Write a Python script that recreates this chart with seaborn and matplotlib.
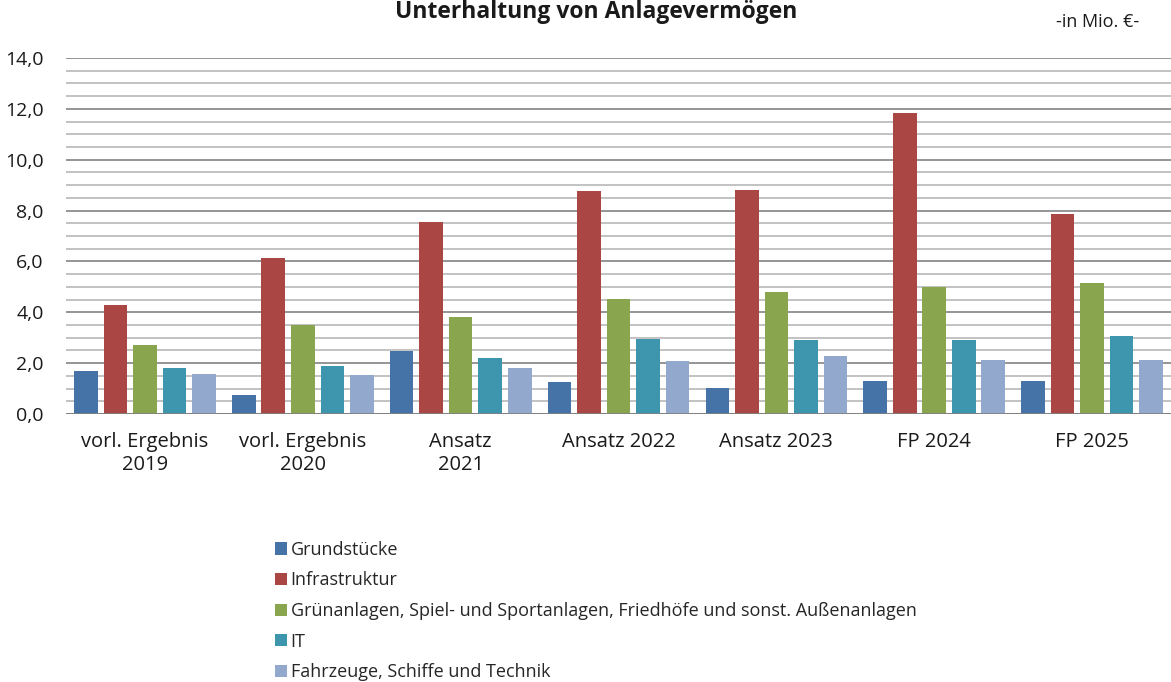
import matplotlib
matplotlib.use("Agg")
import matplotlib.pyplot as plt
from matplotlib.ticker import MultipleLocator, FuncFormatter
import seaborn as sns
import pandas as pd

categories = ["vorl. Ergebnis\n2019", "vorl. Ergebnis\n2020", "Ansatz\n2021",
              "Ansatz 2022", "Ansatz 2023", "FP 2024", "FP 2025"]
series_names = ["Grundstücke", "Infrastruktur",
                "Grünanlagen, Spiel- und Sportanlagen, Friedhöfe und sonst. Außenanlagen",
                "IT", "Fahrzeuge, Schiffe und Technik"]
grundstuecke = [1.70, 0.73, 2.49, 1.27, 1.03, 1.28, 1.30]
infrastruktur = [4.29, 6.14, 7.55, 8.77, 8.81, 11.82, 7.88]
gruenanlagen = [2.72, 3.51, 3.82, 4.53, 4.80, 5.01, 5.14]
it = [1.79, 1.90, 2.21, 2.96, 2.92, 2.92, 3.06]
fahrzeuge = [1.57, 1.54, 1.82, 2.09, 2.29, 2.12, 2.12]
colors = ["#4572A7", "#AA4643", "#89A54E", "#3D96AE", "#92A8CD"]

values = [grundstuecke, infrastruktur, gruenanlagen, it, fahrzeuge]
rows = []
for name, vals in zip(series_names, values):
    for cat, v in zip(categories, vals):
        rows.append({"Kategorie": cat, "Serie": name, "Wert": v})
df = pd.DataFrame(rows)

sns.set_theme(style="white")
plt.rcParams["font.family"] = ["Open Sans", "DejaVu Sans"]

fig = plt.figure(figsize=(11.71, 6.82), dpi=100)
ax = fig.add_axes([0.0564, 0.393, 0.9436, 0.522])

sns.barplot(data=df, x="Kategorie", y="Wert", hue="Serie", order=categories,
            hue_order=series_names, palette=colors, width=0.935, gap=0.2,
            linewidth=0, saturation=1, ax=ax, zorder=3)

ax.set_ylim(0, 14)
ax.set_xlim(-0.5, len(categories) - 0.5)
ax.yaxis.set_major_locator(MultipleLocator(2))
ax.yaxis.set_minor_locator(MultipleLocator(0.5))
ax.yaxis.set_major_formatter(FuncFormatter(lambda v, p: f"{v:.1f}".replace(".", ",")))
ax.grid(which="major", axis="y", color="#8c8c8c", linewidth=1.3, zorder=0)
ax.grid(which="minor", axis="y", color="#bdbdbd", linewidth=1.3, zorder=0)
ax.set_axisbelow(True)
ax.axhline(0, color="#808080", linewidth=2, zorder=4)
for s in ax.spines.values():
    s.set_visible(False)
ax.tick_params(axis="both", which="both", length=0, colors="#1a1a1a")
ax.tick_params(axis="y", labelsize=14, pad=16)
ax.tick_params(axis="x", labelsize=14.5, pad=13)
ax.set_xlabel("")
ax.set_ylabel("")

handles, labels = ax.get_legend_handles_labels()
ax.get_legend().remove()
fig.legend(handles, labels, loc="upper left", bbox_to_anchor=(0.235, 0.207),
           frameon=False, fontsize=13, handlelength=0.65, handleheight=0.65,
           handletextpad=0.2, labelspacing=0.7, borderaxespad=0, borderpad=0)

fig.text(0.509, 1 - 18 / 682, "Unterhaltung von Anlagevermögen", ha="center", va="baseline",
         fontsize=16.5, fontweight="bold", color="#1a1a1a")
fig.text(0.9377, 1 - 22 / 682, "-in Mio. €-", ha="center", va="center", fontsize=13, color="#1a1a1a")

fig.savefig("out.png", dpi=100)
